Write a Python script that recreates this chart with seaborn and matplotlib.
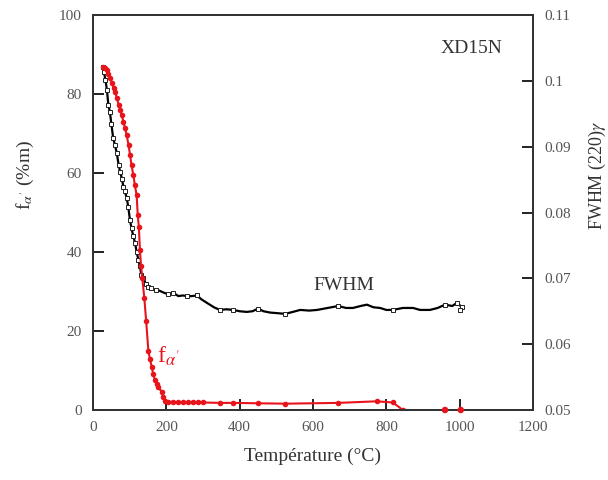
"""
Martensite fraction and FWHM vs temperature, XD15N
"""

import pandas as pd
import matplotlib.pyplot as plt
import seaborn as sns

# f_alpha' (%m)
temp_fa = [27, 32, 37, 42, 47, 52, 56, 60, 65, 70, 74, 78, 83, 87, 92, 97, 101,
           105, 110, 114, 119, 122, 125, 128, 131, 134.5, 140, 145, 151, 155, 160,
           164, 169, 174, 178, 187, 192, 196, 205, 219, 232, 246, 260, 273, 287,
           300, 346, 382, 450, 524, 669, 774, 818, 845]
frac_fa = [86.8, 86.5, 86, 85, 84, 82.8, 81.6, 80.6, 79, 77.3, 76, 74.7, 73, 71.4,
           69.6, 67, 64.6, 62, 59.5, 57, 54.4, 49.4, 46.4, 40.5, 36.5, 33.3, 28.3,
           22.5, 15, 13, 11, 9.2, 7.6, 6.6, 5.9, 4.6, 3.2, 2.3, 2.1, 2.0, 2.0, 2.0,
           2.0, 1.9, 1.9, 1.9, 1.8, 1.8, 1.7, 1.6, 1.8, 2.2, 1.9, 0]
# isolated points at high temperature
temp_fa_hi = [960, 1003]
frac_fa_hi = [0, 0]

# FWHM (220) gamma
temp_fw = [27, 30, 34, 38, 42, 46, 50, 55, 60, 65, 70, 74, 79, 83, 87, 92, 96, 101,
           105, 110, 115, 119, 124, 128, 132, 137, 144, 151, 158, 164, 171, 178, 186,
           194, 205, 219, 233, 245, 256, 270, 283, 296, 310, 330, 346, 364, 382, 400,
           419, 435, 450, 465, 483, 505, 524, 545, 565, 590, 611, 640, 669, 690, 709,
           730, 747, 765, 783, 800, 818, 845, 873, 892, 919, 940, 960, 980, 993, 1006,
           1001]
fwhm = [0.1021, 0.1013, 0.1001, 0.0986, 0.0963, 0.0953, 0.0935, 0.0913, 0.0902,
        0.0890, 0.0872, 0.0862, 0.0851, 0.0839, 0.0832, 0.0822, 0.0809, 0.0788,
        0.0776, 0.0764, 0.0753, 0.0740, 0.0728, 0.0718, 0.0705, 0.0700, 0.0692,
        0.0687, 0.0685, 0.0683, 0.0682, 0.0682, 0.0680, 0.0678, 0.0676, 0.0678,
        0.0673, 0.0674, 0.0673, 0.0673, 0.0674, 0.0668, 0.0663, 0.0656, 0.0652,
        0.0653, 0.0652, 0.0650, 0.0649, 0.0650, 0.0654, 0.0650, 0.0648, 0.0647,
        0.0646, 0.0649, 0.0652, 0.0651, 0.0652, 0.0655, 0.0658, 0.0655, 0.0655,
        0.0658, 0.0660, 0.0656, 0.0655, 0.0652, 0.0652, 0.0655, 0.0655, 0.0652,
        0.0652, 0.0655, 0.0660, 0.0658, 0.0663, 0.0656, 0.0652]

x_ticks = [0, 200, 400, 600, 800, 1000, 1200]
y_ticks = [0, 20, 40, 60, 80, 100]
y2_ticks = [0.05, 0.06, 0.07, 0.08, 0.09, 0.10, 0.11]

RED = '#e8141c'
TXT = '#333333'

sns.set_theme(style='ticks')
plt.rcParams['font.family'] = ['Liberation Serif', 'DejaVu Serif']
plt.rcParams['mathtext.fontset'] = 'stix'

df_fa = pd.DataFrame({'T': temp_fa, 'f': frac_fa})
df_fw = pd.DataFrame({'T': temp_fw, 'fwhm': fwhm})

fig = plt.figure(figsize=(6.08, 4.8), dpi=100)
ax = fig.add_axes([93 / 608, 70 / 480, 440 / 608, 395 / 480])
ax2 = ax.twinx()

# FWHM curve (right axis), markers dense on the descent and sparse afterwards
n_dense = temp_fw.index(137) + 1
mark_idx = list(range(n_dense)) + [temp_fw.index(t) for t in
                                   (144, 151, 158, 171, 205, 219, 256, 283, 346,
                                    382, 450, 524, 669, 818, 960, 993, 1006, 1001)]
sns.lineplot(data=df_fw, x='T', y='fwhm', ax=ax2, sort=False, estimator=None,
             color='black', linewidth=1.6, marker='s', markersize=3,
             markerfacecolor='white', markeredgecolor='#222222',
             markeredgewidth=0.7, markevery=mark_idx)

# f_alpha' curve (left axis)
sns.lineplot(data=df_fa, x='T', y='f', ax=ax, sort=False, estimator=None,
             color=RED, linewidth=1.5, marker='o', markersize=4,
             markeredgewidth=0, markerfacecolor=RED)
sns.scatterplot(x=temp_fa_hi, y=frac_fa_hi, ax=ax, color=RED, s=22,
                edgecolor='none', clip_on=False, zorder=5)

ax.set_zorder(ax2.get_zorder() + 1)
ax.patch.set_visible(False)

ax.set_xlim(0, 1200)
ax.set_ylim(0, 100)
ax2.set_ylim(0.05, 0.11)
ax.set_xticks(x_ticks)
ax.set_yticks(y_ticks)
ax2.set_yticks(y2_ticks)
ax2.set_yticklabels([f'{v:g}' for v in y2_ticks])

for a in (ax, ax2):
    a.tick_params(direction='in', length=8, width=1.4, colors='#222222',
                  labelcolor='#555555', labelsize=11)
    for sp in a.spines.values():
        sp.set_linewidth(1.4)
        sp.set_color('#333333')
ax.tick_params(axis='x', pad=8)
ax.tick_params(axis='y', pad=8)
ax2.tick_params(axis='y', pad=8)

ax.set_xlabel('Température (°C)', fontsize=14, color=TXT)
ax.set_ylabel(r"f$_{\alpha'}$ (%m)", fontsize=14, color=TXT)
ax2.set_ylabel(r'FWHM (220)$\gamma$', fontsize=13, color=TXT)
ax.xaxis.set_label_coords(0.5, -0.095)
ax.yaxis.set_label_coords(-0.13, 0.595)
ax2.yaxis.set_label_coords(1.122, 0.595)

ax.text(0.861, 0.914, 'XD15N', transform=ax.transAxes, fontsize=14,
        color=TXT, ha='center', va='center')
ax.text(684, 31.6, 'FWHM', fontsize=14, color=TXT, ha='center', va='center')
ax.text(205, 13.5, r"f$_{\alpha'}$", fontsize=17, color=RED, ha='center',
        va='center')

plt.savefig('out.png', dpi=100)
plt.close()
